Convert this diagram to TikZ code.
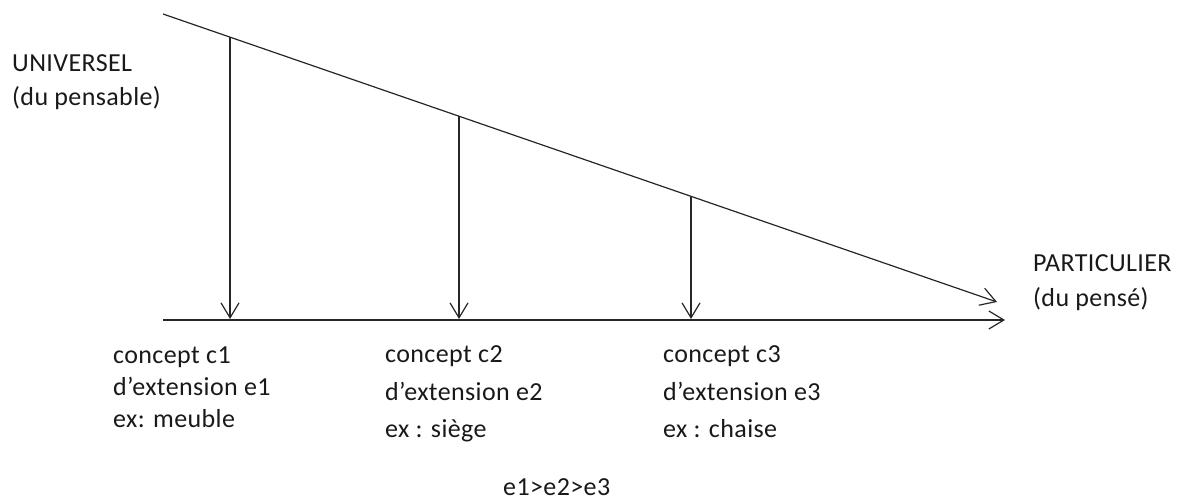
\documentclass[tikz,border=0pt]{standalone}
\usepackage{fontspec}
\setmainfont{Carlito}
\usetikzlibrary{arrows.meta}
\begin{document}
\begin{tikzpicture}[x=1pt,y=-1pt,
  line/.style={line width=1.2pt,draw=black!85},
  arr/.style={line,-{Straight Barb[length=15pt,width=18pt,line width=1.2pt]}},
  lbl/.style={anchor=base west,inner sep=0pt,font=\fontsize{26}{30}\selectfont\addfontfeature{LetterSpace=1.5},text=black!90}]
\useasboundingbox (0,0) rectangle (1184,502);
% axes
\coordinate (ds) at (163,14);
\coordinate (de) at (997,302);
\coordinate (hs) at (163,320);
\coordinate (he) at (1005,320);
\draw[arr] (ds) -- (de);
\draw[arr] (hs) -- (he);
% concept points
\coordinate (t1) at (230,37);
\coordinate (t2) at (459,116);
\coordinate (t3) at (691,196);
\coordinate (b1) at (230,319);
\coordinate (b2) at (459,319);
\coordinate (b3) at (691,319);
\draw[arr] (t1) -- (b1);
\draw[arr] (t2) -- (b2);
\draw[arr] (t3) -- (b3);
% labels
\node[lbl] (u1) at (12,72) {UNIVERSEL};
\node[lbl] (u2) at (12,106) {(du pensable)};
\node[lbl] (p1) at (1033,272) {PARTICULIER};
\node[lbl] (p2) at (1033,307) {(du pensé)};
\node[lbl] (c1a) at (113,364) {concept c1};
\node[lbl] (c1b) at (113,396) {d’extension e1};
\node[lbl] (c1c) at (113,428) {ex: meuble};
\node[lbl] (c2a) at (385,363) {concept c2};
\node[lbl] (c2b) at (385,401) {d’extension e2};
\node[lbl] (c2c) at (385,438) {ex : siège};
\node[lbl] (c3a) at (663,363) {concept c3};
\node[lbl] (c3b) at (663,401) {d’extension e3};
\node[lbl] (c3c) at (663,438) {ex : chaise};
\node[lbl] (ord) at (503,496) {e1>e2>e3};
\end{tikzpicture}
\end{document}
